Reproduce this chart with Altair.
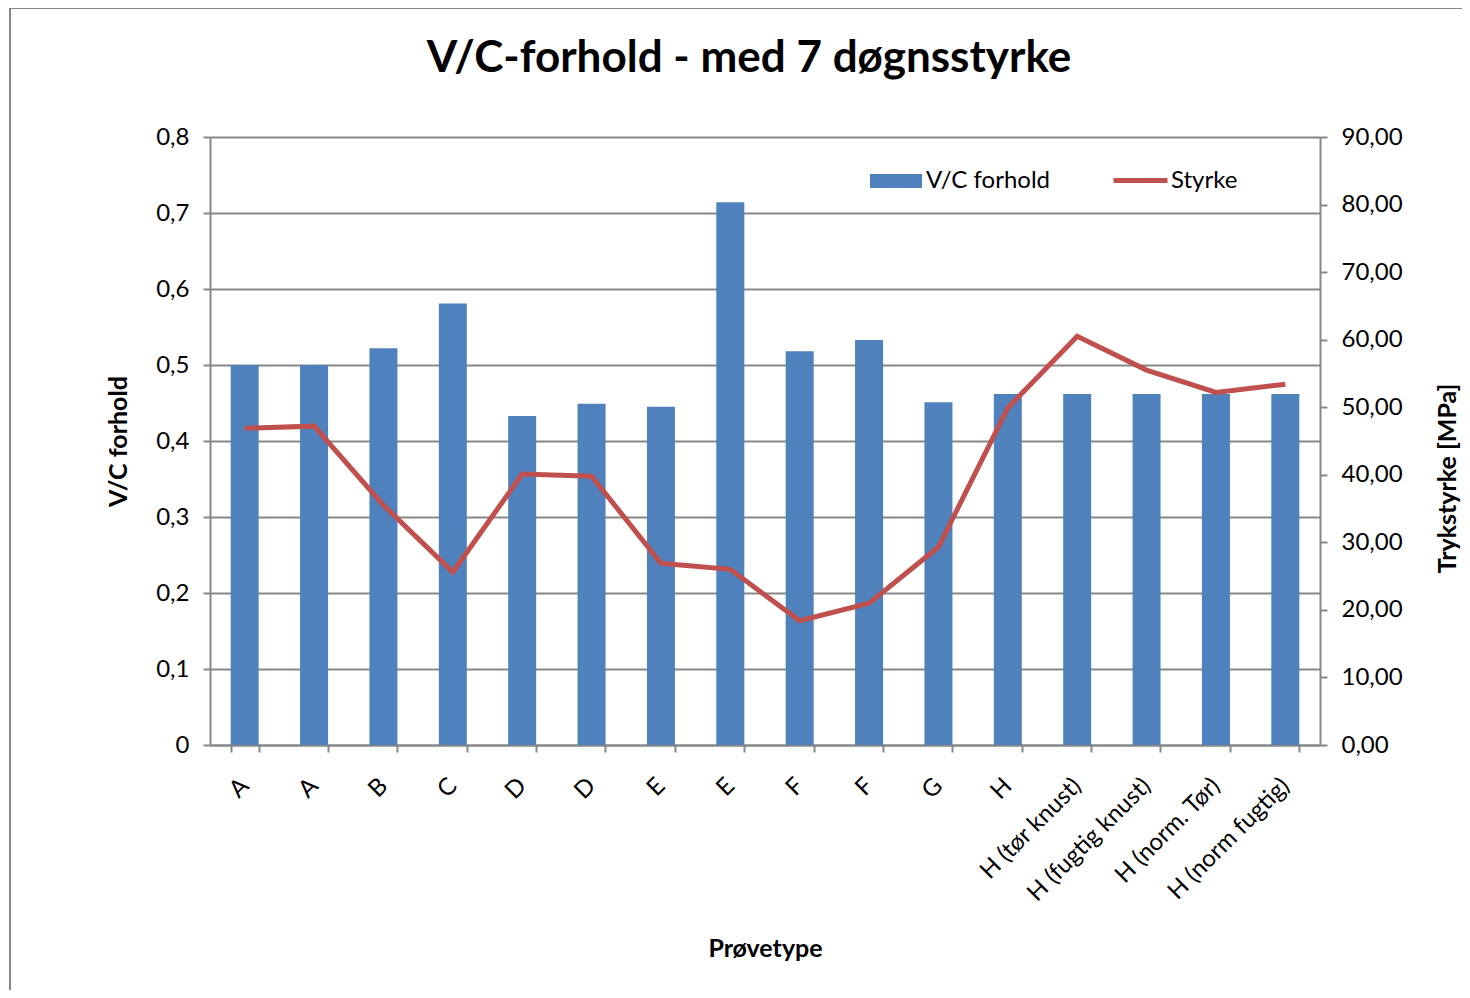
import altair as alt
import pandas as pd

categories = ["A", "A", "B", "C", "D", "D", "E", "E", "F", "F", "G", "H",
              "H (tør knust)", "H (fugtig knust)", "H (norm. Tør)", "H (norm fugtig)"]
vc_forhold = [0.50, 0.50, 0.522, 0.581, 0.433, 0.449, 0.445, 0.714,
              0.518, 0.533, 0.451, 0.462, 0.462, 0.462, 0.462, 0.462]
styrke = [46.9, 47.2, 35.5, 25.6, 40.1, 39.8, 26.9, 26.0,
          18.4, 21.0, 29.3, 49.9, 60.5, 55.5, 52.2, 53.4]
left_ticks = [0, 0.1, 0.2, 0.3, 0.4, 0.5, 0.6, 0.7, 0.8]
right_ticks = [0, 10, 20, 30, 40, 50, 60, 70, 80, 90]

df = pd.DataFrame({
    "idx": list(range(len(categories))),
    "kategori": categories,
    "vc": vc_forhold,
    "styrke": styrke,
    "s1": ["V/C forhold"] * len(categories),
    "s2": ["Styrke"] * len(categories),
})

FONT = "Lato"
GREY = "#878787"
LBL = 24
label_js = "[" + ",".join("'" + c + "'" for c in categories) + "]"

x_enc = alt.X(
    "idx:O",
    sort=list(range(len(categories))),
    scale=alt.Scale(paddingInner=0.6, paddingOuter=0.3),
    axis=alt.Axis(
        title="Prøvetype",
        labelExpr=label_js + "[datum.value]",
        labelAngle=-45,
        labelAlign="right",
        labelBaseline="middle",
        labelPadding=30,
        tickBand="extent",
        tickSize=7,
        titleX=555,
        titleY=203,
        titleBaseline="middle",
    ),
)

base = alt.Chart(df)

bars = base.mark_bar(size=28).encode(
    x=x_enc,
    y=alt.Y(
        "vc:Q",
        scale=alt.Scale(domain=[0, 0.8], nice=False),
        axis=alt.Axis(
            title="V/C forhold",
            values=left_ticks,
            labelExpr="replace(format(datum.value, '.1~f'), '.', ',')",
            grid=True,
            tickSize=7,
            labelPadding=14,
            titleX=-92,
            titleY=304,
            titleBaseline="middle",
        ),
    ),
    color=alt.Color(
        "s1:N",
        scale=alt.Scale(range=["#4F81BD"]),
        legend=alt.Legend(
            title=None,
            orient="none",
            legendX=660,
            legendY=18,
            symbolType="M-1,-0.27L1,-0.27L1,0.27L-1,0.27Z",
            symbolSize=2704,
            symbolStrokeWidth=0,
            labelFontSize=LBL,
            labelFont=FONT,
            labelOffset=4,
            padding=0,
        ),
    ),
)

line = base.mark_line(strokeWidth=5).encode(
    x=x_enc,
    y=alt.Y(
        "styrke:Q",
        scale=alt.Scale(domain=[0, 90], nice=False),
        axis=alt.Axis(
            title="Trykstyrke [MPa]",
            orient="right",
            values=right_ticks,
            labelExpr="replace(format(datum.value, '.2f'), '.', ',')",
            grid=False,
            tickSize=7,
            labelPadding=14,
            titleX=127,
            titleY=341,
            titleAngle=270,
            titleBaseline="middle",
        ),
    ),
    stroke=alt.Stroke(
        "s2:N",
        scale=alt.Scale(range=["#C0504D"]),
        legend=alt.Legend(
            title=None,
            orient="none",
            legendX=901,
            legendY=14,
            symbolType="stroke",
            symbolSize=2916,
            symbolStrokeWidth=5,
            labelFontSize=LBL,
            labelFont=FONT,
            labelOffset=1,
            padding=0,
        ),
    ),
)

frame_left = base.mark_rule(color=GREY, strokeWidth=2).encode(
    x=alt.value(-200), y=alt.value(-129), y2=alt.value(900)
)
frame_top = base.mark_rule(color=GREY, strokeWidth=2).encode(
    x=alt.value(-200), x2=alt.value(1400), y=alt.value(-129)
)

chart = (
    alt.layer(frame_left, frame_top, bars, line)
    .resolve_scale(y="independent", color="independent", stroke="independent")
    .properties(
        width=1110,
        height=608,
        padding={"left": 202, "top": 129, "right": 142, "bottom": 245},
        autosize=alt.AutoSizeParams(type="none"),
        title=alt.TitleParams(
            text="V/C-forhold - med 7 døgnsstyrke",
            font=FONT,
            fontSize=44,
            fontWeight="bold",
            anchor="middle",
            dx=-16,
            dy=74,
            offset=0,
            color="black",
        ),
    )
    .configure_view(stroke=None)
    .configure_axis(
        labelFont=FONT,
        labelFontSize=LBL,
        labelColor="black",
        titleFont=FONT,
        titleFontSize=25,
        titleFontWeight="bold",
        titleColor="black",
        domainColor=GREY,
        domainWidth=2,
        tickColor=GREY,
        tickWidth=2,
        gridColor=GREY,
        gridWidth=2,
        gridOpacity=1,
    )
    .configure_legend(labelColor="black")
)

chart.save("out.html", embed_options={"renderer": "svg", "actions": False})
